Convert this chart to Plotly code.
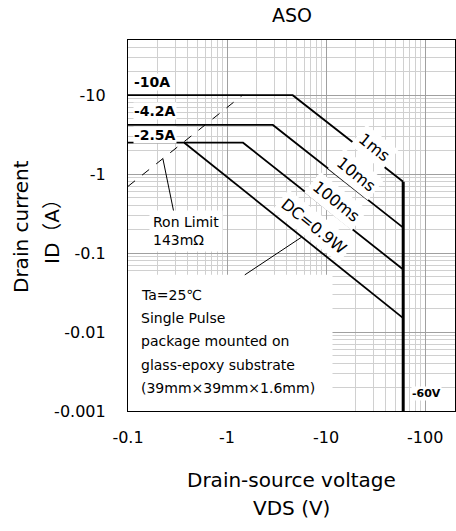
import math
import plotly.graph_objects as go

# ---- data (magnitudes; axes are labelled negative) ----
v_1ms = [0.1, 4.6, 60]
i_1ms = [10, 10, 0.8]
v_10ms = [0.1, 2.9, 60]
i_10ms = [4.2, 4.2, 0.21]
v_100ms = [0.1, 1.45, 60]
i_100ms = [2.5, 2.5, 0.062]
v_dc = [0.37, 60]
i_dc = [2.5, 0.015]
v_vlim = [60, 60]
i_vlim = [0.8, 0.001]
v_ron = [0.1, 1.43]
i_ron = [0.7, 10]

x_tickvals = [0.1, 1, 10, 100]
x_ticktext = ["-0.1", "-1", "-10", "-100"]
y_tickvals = [0.001, 0.01, 0.1, 1, 10]
y_ticktext = ["-0.001", "-0.01", "-0.1", "-1", "-10"]

cond_lines = ["Ta=25℃", "Single Pulse", "package mounted on",
              "glass-epoxy substrate", "(39mm×39mm×1.6mm)"]

FONT = "DejaVu Sans, Noto Sans CJK JP"

fig = go.Figure()
line = dict(color="black", width=1.8)
for xs, ys in [(v_1ms, i_1ms), (v_10ms, i_10ms), (v_100ms, i_100ms), (v_dc, i_dc)]:
    fig.add_trace(go.Scatter(x=xs, y=ys, mode="lines", line=line, hoverinfo="skip"))
fig.add_trace(go.Scatter(x=v_vlim, y=i_vlim, mode="lines", line=dict(color="black", width=3), hoverinfo="skip"))
fig.add_trace(go.Scatter(x=v_ron, y=i_ron, mode="lines", line=dict(color="black", width=1, dash="dash"), hoverinfo="skip"))
# leader lines
fig.add_trace(go.Scatter(x=[0.29, 0.225], y=[0.33, 1.57], mode="lines", line=dict(color="black", width=1), hoverinfo="skip"))
fig.add_trace(go.Scatter(x=[1.51, 5.65], y=[0.053, 0.159], mode="lines", line=dict(color="black", width=1), hoverinfo="skip"))

minor_vals = [m * 10 ** e for e in range(-4, 3) for m in range(2, 10)]

axis_common = dict(type="log", showline=True, linecolor="black", linewidth=1.2, mirror=True,
                   gridcolor="#a0a0a0", gridwidth=1, zeroline=False, ticks="",
                   tickfont=dict(family=FONT, size=16, color="black"))

fig.update_xaxes(range=[-1, math.log10(200)], tickvals=x_tickvals, ticktext=x_ticktext,
                 ticklabelstandoff=12,
                 minor=dict(tickvals=minor_vals, showgrid=True, gridcolor="#d0d0d0", gridwidth=1, ticks=""),
                 **axis_common)
fig.update_yaxes(range=[-3, math.log10(50)], tickvals=y_tickvals, ticktext=y_ticktext,
                 ticklabelstandoff=18,
                 minor=dict(tickvals=minor_vals, showgrid=True, gridcolor="#d0d0d0", gridwidth=1, ticks=""),
                 **axis_common)

# white box behind conditions text
fig.add_shape(type="rect", xref="x", yref="y", x0=0.1, x1=11.6, y0=0.001, y1=0.053,
              fillcolor="white", line=dict(width=0), layer="between")

ann = []
lab = dict(family=FONT, size=14, color="black")
for txt, y in [("<b>-10A</b>", 14.6), ("<b>-4.2A</b>", 6.3), ("<b>-2.5A</b>", 3.14)]:
    ann.append(dict(x=math.log10(0.112), y=math.log10(y), text=txt, showarrow=False,
                    xanchor="left", yanchor="middle", font=lab, bgcolor="white", borderpad=0))
ann.append(dict(x=math.log10(72), y=math.log10(0.00168), text="<b>-60V</b>", showarrow=False,
                xanchor="left", yanchor="middle", font=dict(family=FONT, size=11, color="black"),
                bgcolor="white", borderpad=0))
ang = math.degrees(math.atan(79.5 / 99.3))
for txt, xv, yv in [("1ms", 30.7, 2.15), ("10ms", 20.2, 0.99), ("100ms", 12.7, 0.45), ("DC=0.9W", 7.6, 0.22)]:
    ann.append(dict(x=math.log10(xv), y=math.log10(yv), text=txt, showarrow=False, textangle=ang,
                    font=dict(family=FONT, size=16, color="black"), bgcolor="white", borderpad=3))
ann.append(dict(x=math.log10(0.163), y=-0.726, text="Ron Limit<br>143mΩ",
                showarrow=False, xanchor="left", yanchor="middle", align="left",
                font=dict(family=FONT, size=14, color="black"), bgcolor="white", borderpad=3))
for k, t in enumerate(cond_lines):
    py = 295 + k * 23.2
    ann.append(dict(xref="paper", yref="paper", x=(139 - 128) / 327, y=(411 - py) / 371, text=t,
                    showarrow=False, xanchor="left", yanchor="middle", font=lab))
# axis titles
tf = dict(family=FONT, size=20, color="black")
ann.append(dict(xref="paper", yref="paper", x=0.5, y=(411 - 480) / 371, text="Drain-source voltage",
                showarrow=False, font=tf, yanchor="middle"))
ann.append(dict(xref="paper", yref="paper", x=0.5, y=(411 - 508) / 371, text="VDS (V)",
                showarrow=False, font=tf, yanchor="middle"))
ann.append(dict(xref="paper", yref="paper", x=(21 - 128) / 327, y=(411 - 227) / 371, text="Drain current",
                showarrow=False, font=tf, textangle=-90, xanchor="center", yanchor="middle"))
ann.append(dict(xref="paper", yref="paper", x=(52 - 128) / 327, y=(411 - 227) / 371, text="ID（A）",
                showarrow=False, font=tf, textangle=-90, xanchor="center", yanchor="middle"))

fig.update_layout(
    width=456, height=531,
    margin=dict(l=128, r=1, t=40, b=120),
    paper_bgcolor="white", plot_bgcolor="white",
    showlegend=False,
    title=dict(text="ASO", x=(292) / 456, xanchor="center", y=1 - 15 / 531, yanchor="middle",
               font=dict(family=FONT, size=19, color="black")),
    annotations=ann,
)

fig.write_html("out.html", config={"displayModeBar": False},
               post_script="document.body.style.margin='0';")
